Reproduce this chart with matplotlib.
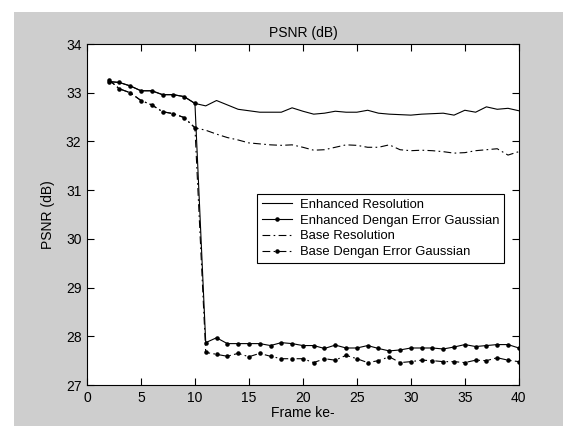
import numpy as np
import matplotlib
matplotlib.use('Agg')
from matplotlib import pyplot as plt
from matplotlib.patches import Rectangle

frames = np.arange(2, 41)

enh_res = [33.23, 33.21, 33.14, 33.04, 33.04, 32.96, 32.96, 32.92, 32.78,
           32.73, 32.84, 32.75, 32.66, 32.63, 32.60, 32.60, 32.60, 32.69, 32.62,
           32.56, 32.58, 32.62, 32.60, 32.60, 32.64, 32.58, 32.56, 32.55, 32.54,
           32.56, 32.57, 32.58, 32.54, 32.64, 32.60, 32.71, 32.66, 32.68, 32.63]

enh_err = [33.23, 33.21, 33.14, 33.04, 33.04, 32.96, 32.96, 32.92, 32.78,
           27.87, 27.97, 27.85, 27.85, 27.85, 27.85, 27.81, 27.87, 27.85, 27.81,
           27.81, 27.75, 27.82, 27.76, 27.76, 27.81, 27.75, 27.70, 27.72, 27.76,
           27.76, 27.76, 27.74, 27.78, 27.83, 27.79, 27.81, 27.83, 27.83, 27.76]

base_res = [33.27, 33.08, 33.00, 32.84, 32.75, 32.61, 32.57, 32.49, 32.28,
            32.23, 32.15, 32.08, 32.03, 31.97, 31.95, 31.93, 31.92, 31.93, 31.88,
            31.82, 31.83, 31.88, 31.93, 31.92, 31.88, 31.88, 31.93, 31.83, 31.81,
            31.82, 31.81, 31.79, 31.76, 31.77, 31.81, 31.83, 31.85, 31.72, 31.79]

base_err = [33.27, 33.08, 33.00, 32.84, 32.75, 32.61, 32.57, 32.49, 32.28,
            27.67, 27.63, 27.59, 27.65, 27.58, 27.65, 27.59, 27.54, 27.54, 27.54,
            27.46, 27.54, 27.51, 27.61, 27.54, 27.46, 27.50, 27.58, 27.46, 27.48,
            27.51, 27.50, 27.48, 27.48, 27.46, 27.51, 27.50, 27.56, 27.51, 27.48]

labels = ['Enhanced Resolution', 'Enhanced Dengan Error Gaussian',
          'Base Resolution', 'Base Dengan Error Gaussian']

plt.rcParams['font.family'] = ['Liberation Sans', 'DejaVu Sans']
plt.rcParams['font.size'] = 10

fig = plt.figure(figsize=(5.63, 4.26), dpi=100, facecolor='white')
# grey figure panel, with a thin white margin on the top and left
fig.patches.append(Rectangle((0.0249, 0), 0.9751, 0.9718, transform=fig.transFigure,
                             facecolor='#cecece', edgecolor='none', zorder=-10))

ax = fig.add_axes([0.1545, 0.0962, 0.767, 0.8005])
ax.set_facecolor('white')

dashdot = (0, (7, 3, 1.5, 3))
ax.plot(frames, enh_res, '-', color='black', lw=0.8, label=labels[0])
ax.plot(frames, enh_err, '-', color='black', lw=0.8, marker='.', ms=4.5, label=labels[1])
ax.plot(frames, base_res, linestyle=dashdot, color='black', lw=0.8, label=labels[2])
ax.plot(frames, base_err, linestyle=dashdot, color='black', lw=0.8, marker='.', ms=4.5, label=labels[3])

ax.set_xlim(0, 40)
ax.set_ylim(27, 34)
ax.set_xticks(range(0, 41, 5))
ax.set_yticks(range(27, 35))
ax.tick_params(direction='in', top=True, right=True, length=5, width=0.8, pad=4,
               labelsize=10)
for s in ax.spines.values():
    s.set_linewidth(0.8)

ax.set_title('PSNR (dB)', fontsize=10, pad=5)
ax.set_xlabel('Frame ke-', labelpad=1)
ax.set_ylabel('PSNR (dB)', labelpad=8)

leg = ax.legend(loc='upper left', bbox_to_anchor=(0.394, 0.56), borderaxespad=0,
                fancybox=False, framealpha=1, edgecolor='black', handlelength=2.3,
                labelspacing=0.28, borderpad=0.35, handletextpad=0.6, fontsize=9.4)
leg.get_frame().set_linewidth(0.8)

fig.savefig('out.png', dpi=100, facecolor=fig.get_facecolor())
